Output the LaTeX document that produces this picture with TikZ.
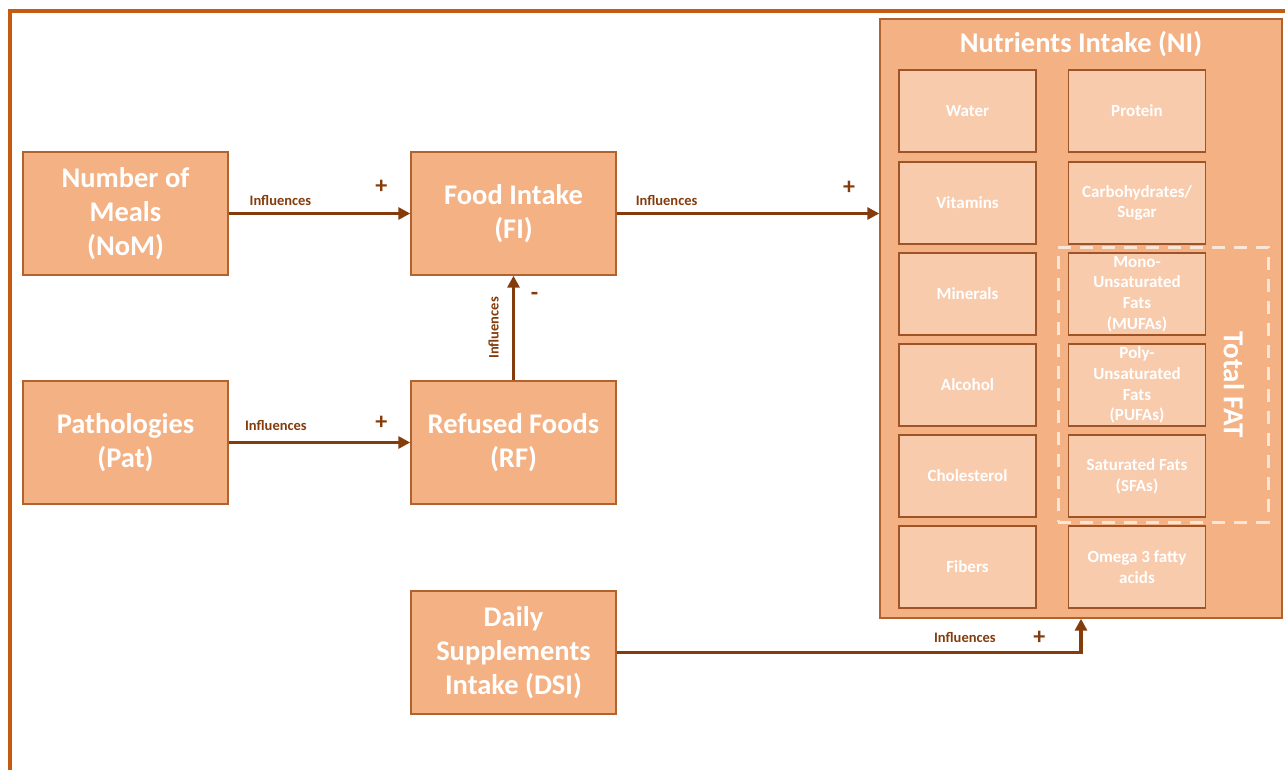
\documentclass[tikz,border=0pt]{standalone}
\usepackage{fontspec}
\setmainfont{Carlito}
\usetikzlibrary{arrows.meta}
\definecolor{boxfill}{HTML}{F4B183}
\definecolor{boxline}{HTML}{B0632F}
\definecolor{cellfill}{HTML}{F8CBAD}
\definecolor{cellline}{HTML}{9E5427}
\definecolor{arrowc}{HTML}{843C0C}
\definecolor{framec}{HTML}{C55A11}
\definecolor{dashc}{HTML}{FBE5D6}
\tikzset{
  mainbox/.style={draw=boxline, line width=1.4pt, fill=boxfill, minimum width=205pt,
    minimum height=123pt, inner sep=0pt, align=center, text=white,
    font=\bfseries\fontsize{28.5}{34}\selectfont},
  cell/.style={draw=cellline, line width=1.3pt, fill=cellfill, minimum width=137pt,
    minimum height=82pt, inner sep=0pt, align=center, text=white,
    font=\bfseries\fontsize{17}{20.7}\selectfont},
  link/.style={draw=arrowc, line width=3.2pt, -{Triangle[length=12pt,width=12pt]}},
  lbl/.style={text=arrowc, font=\bfseries\fontsize{14.5}{16}\selectfont, inner sep=0pt},
  sign/.style={text=arrowc, font=\bfseries\fontsize{24}{26}\selectfont, inner sep=0pt}
}
\begin{document}
\begin{tikzpicture}[x=1pt, y=-1pt]
\useasboundingbox (0,0) rectangle (1285,769);
% page frame
\draw[framec, line width=3.5pt] (10,772) -- (10,11) -- (1290,11);

% nutrients container
\node[draw=boxline, line width=1.4pt, fill=boxfill, minimum width=402pt,
  minimum height=599pt, inner sep=0pt] (ni) at (1081,318.5) {};
\node[text=white, font=\bfseries\fontsize{28.5}{30}\selectfont] (nititle) at (1081,44) {Nutrients Intake (NI)};

% nutrient cells
\node[cell] (water) at (967.5,111) {Water};
\node[cell] (vit) at (967.5,203) {Vitamins};
\node[cell] (min) at (967.5,294) {Minerals};
\node[cell] (alc) at (967.5,385) {Alcohol};
\node[cell] (chol) at (967.5,476) {Cholesterol};
\node[cell] (fib) at (967.5,567) {Fibers};
\node[cell] (prot) at (1137,111) {Protein};
\node[cell] (carb) at (1137,203) {Carbohydrates/\\Sugar};
\node[cell] (mufa) at (1137,294) {Mono-\\Unsaturated\\Fats\\(MUFAs)};
\node[cell] (pufa) at (1137,385) {Poly-\\Unsaturated\\Fats\\(PUFAs)};
\node[cell] (sfa) at (1137,476) {Saturated Fats\\(SFAs)};
\node[cell] (omega) at (1137,567) {Omega 3 fatty\\acids};

% total fat group
\node[draw=dashc, line width=3pt, dash pattern=on 13pt off 9pt, minimum width=210pt,
  minimum height=275pt, inner sep=0pt] (fatgrp) at (1163,384.5) {};
\node[rotate=-90, text=white, font=\bfseries\fontsize{29}{30}\selectfont] (fatlbl) at (1234,385) {Total FAT};

% factor boxes
\node[mainbox] (nom) at (125.5,213.5) {Number of\\Meals\\(NoM)};
\node[mainbox] (fi) at (513.5,213.5) {Food Intake\\(FI)};
\node[mainbox] (pat) at (125.5,442.5) {Pathologies\\(Pat)};
\node[mainbox] (rf) at (513.5,442.5) {Refused Foods\\(RF)};
\node[mainbox] (dsi) at (513.5,652.5) {Daily\\Supplements\\Intake (DSI)};

% influences
\draw[link] (nom) -- (fi)
  node[lbl, pos=.285, yshift=13pt] {Influences}
  node[sign, pos=.84, yshift=27pt] {+};
\draw[link] (fi.east) -- (ni.west |- fi.east)
  node[lbl, pos=.19, yshift=13pt] {Influences}
  node[sign, pos=.885, yshift=26pt] {+};
\draw[link] (pat) -- (rf)
  node[lbl, pos=.26, yshift=17pt] {Influences}
  node[sign, pos=.84, yshift=20pt] {+};
\draw[link] (rf) -- (fi)
  node[lbl, midway, xshift=-20pt, rotate=90] {Influences}
  node[sign, pos=.8, xshift=21pt] {-};
\draw[link] (dsi.east) -| (ni.south)
  node[lbl, pos=.375, yshift=15pt] {Influences}
  node[sign, pos=.455, yshift=15pt] {+};
\end{tikzpicture}
\end{document}
